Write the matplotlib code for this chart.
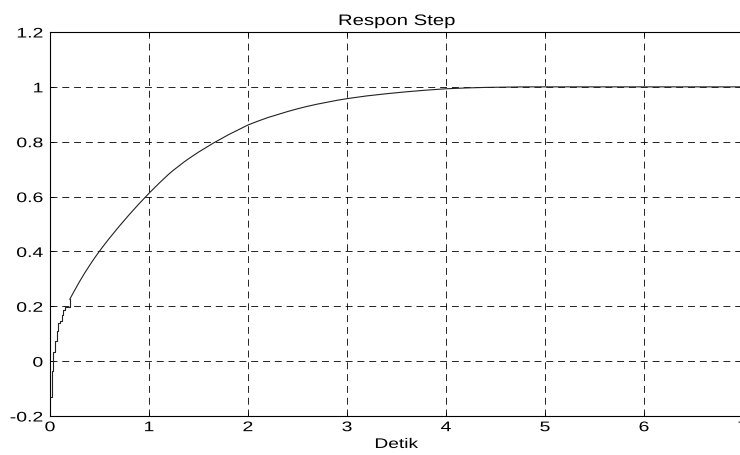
import matplotlib
matplotlib.use("Agg")
import matplotlib.pyplot as plt
from matplotlib.patheffects import AbstractPathEffect
from matplotlib.transforms import Affine2D

plt.rcParams['font.family'] = ['Liberation Sans', 'DejaVu Sans']
plt.rcParams['lines.scale_dashes'] = False

title = "Respon Step"
xlabel = "Detik"
x_ticks = [0, 1, 2, 3, 4, 5, 6, 7]
y_ticks = [-0.2, 0, 0.2, 0.4, 0.6, 0.8, 1.0, 1.2]
y_tick_labels = ["-0.2", "0", "0.2", "0.4", "0.6", "0.8", "1", "1.2"]

t = [0.0, 0.017, 0.033, 0.05, 0.067, 0.083, 0.1, 0.117, 0.133, 0.15,
     0.2, 0.25, 0.3, 0.35, 0.4, 0.45, 0.5, 0.55, 0.6, 0.65,
     0.7, 0.75, 0.8, 0.85, 0.9, 0.95, 1.0, 1.05, 1.1, 1.15,
     1.2, 1.25, 1.3, 1.35, 1.4, 1.45, 1.5, 1.55, 1.6, 1.65,
     1.7, 1.75, 1.8, 1.85, 1.9, 1.95, 2.0, 2.1, 2.2, 2.3,
     2.4, 2.5, 2.6, 2.7, 2.8, 2.9, 3.0, 3.2, 3.4, 3.6,
     3.8, 4.0, 4.2, 4.4, 4.6, 4.8, 7.0]
y = [-0.13, -0.035, 0.033, 0.075, 0.11, 0.14, 0.145, 0.17, 0.185, 0.196,
     0.226, 0.259, 0.291, 0.321, 0.349, 0.376, 0.401, 0.425, 0.448, 0.470,
     0.492, 0.513, 0.534, 0.554, 0.574, 0.593, 0.612, 0.630, 0.648, 0.665,
     0.682, 0.697, 0.711, 0.725, 0.738, 0.750, 0.762, 0.773, 0.784, 0.795,
     0.805, 0.815, 0.825, 0.834, 0.843, 0.852, 0.861, 0.875, 0.888, 0.899,
     0.910, 0.920, 0.929, 0.937, 0.944, 0.951, 0.957, 0.967, 0.975, 0.982,
     0.988, 0.993, 0.996, 0.998, 0.999, 1.0, 1.0]
n_step = 10  # first samples drawn as a staircase


class HStretch(AbstractPathEffect):
    """Widen text horizontally around its alignment anchor."""
    def __init__(self, sx, frac):
        super().__init__()
        self.sx = sx
        self.frac = frac

    def draw_path(self, renderer, gc, tpath, affine, rgbFace=None):
        ext = tpath.get_extents()
        a = ext.x0 + self.frac * (ext.x1 - ext.x0)
        tr = Affine2D().translate(-a, 0).scale(self.sx, 1).translate(a, 0) + affine
        renderer.draw_path(gc, tpath, tr, rgbFace)


fig = plt.figure(figsize=(7.40, 4.56), dpi=100)
ax = fig.add_axes([50/740, 39/456, 693/740, 384/456])

ax.plot(t[:n_step + 1], y[:n_step + 1], drawstyle='steps-post', color='#222222', lw=0.8)
ax.plot(t[n_step:], y[n_step:], color='#222222', lw=0.8)

ax.set_xlim(0, 7)
ax.set_ylim(-0.2, 1.2)
ax.set_xticks(x_ticks)
ax.set_yticks(y_ticks)
ax.set_yticklabels(y_tick_labels)
ax.tick_params(direction='in', length=3, width=0.6, labelsize=10,
               top=True, right=True, colors='black')
ax.tick_params(axis='x', pad=3)
ax.tick_params(axis='y', pad=5)
ax.grid(True, color='black', lw=0.6, linestyle=(0, (5, 3.5)))
for s in ax.spines.values():
    s.set_linewidth(0.8)

for lab in ax.get_yticklabels():
    lab.set_path_effects([HStretch(1.4, 1.0)])
for lab in ax.get_xticklabels():
    lab.set_path_effects([HStretch(1.4, 0.5)])

ttl = ax.set_title(title, fontsize=11, pad=5)
ttl.set_path_effects([HStretch(1.33, 0.5)])
xl = ax.set_xlabel(xlabel, fontsize=10, labelpad=2)
xl.set_path_effects([HStretch(1.38, 0.5)])

fig.savefig("out.png", dpi=100)
